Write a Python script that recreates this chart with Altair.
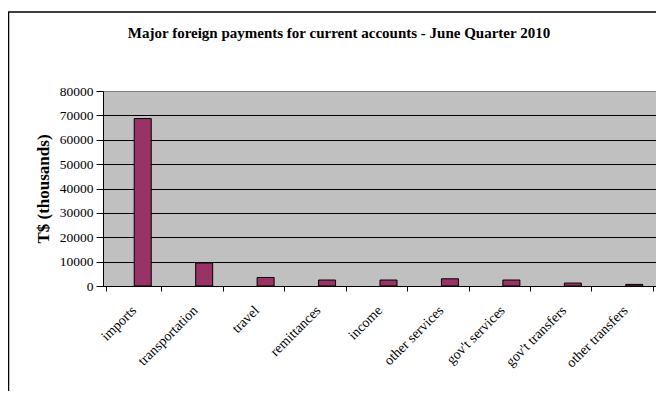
import altair as alt
import pandas as pd

categories = ["imports", "transportation", "travel", "remittances", "income",
              "other services", "gov't services", "gov't transfers", "other transfers"]
values = [68700, 9450, 3500, 2450, 2450, 2950, 2450, 1200, 650]
y_ticks = [0, 10000, 20000, 30000, 40000, 50000, 60000, 70000, 80000]
title_text = "Major foreign payments for current accounts - June Quarter 2010"

df = pd.DataFrame({"category": categories, "value": values})
one = pd.DataFrame({"a": [0]})

W, H = 553, 195
FONT = "Liberation Serif"

bars = alt.Chart(df).mark_bar(size=17, xOffset=9, color="#993366",
                              stroke="black", strokeWidth=1).encode(
    x=alt.X("category:N", sort=categories, title=None,
            axis=alt.Axis(labelAngle=-45, labelAlign="right", labelBaseline="middle",
                          tickBand="extent", tickSize=5, tickColor="black",
                          domainColor="black", labelColor="black",
                          labelFont=FONT, labelFontSize=14, labelPadding=17,
                          labelOverlap=False, grid=False)),
    y=alt.Y("value:Q", scale=alt.Scale(domain=[0, 80000], nice=False),
            axis=alt.Axis(values=y_ticks, title="T$ (thousands)", format="d",
                          titleFont=FONT, titleFontSize=17, titleFontWeight="bold",
                          titleColor="black", titlePadding=7,
                          labelFont=FONT, labelFontSize=13.5, labelColor="black",
                          labelPadding=3,
                          tickSize=7, tickColor="black", domainColor="black",
                          grid=True,
                          gridColor={"condition": {"test": "datum.value == 80000", "value": "#808080"},
                                     "value": "black"},
                          gridOpacity=1)),
)

title = alt.Chart(one).mark_text(text=title_text, font=FONT, fontSize=15,
                                 fontWeight="bold", color="black",
                                 align="center", baseline="middle").encode(
    x=alt.value(236), y=alt.value(-58.5))

border = alt.Chart(one).mark_rect(fillOpacity=0, stroke="black", strokeWidth=1.5).encode(
    x=alt.value(-94.5), x2=alt.value(W + 40), y=alt.value(-79), y2=alt.value(H + 200))

chart = alt.layer(bars, title, border).properties(
    width=W, height=H, autosize="none",
    padding={"left": 95, "top": 83, "right": 0, "bottom": 105},
    background="white",
).configure_view(fill="#C0C0C0", stroke="#808080", strokeWidth=1)

chart.save("out.html", embed_options={"renderer": "svg", "actions": False})
